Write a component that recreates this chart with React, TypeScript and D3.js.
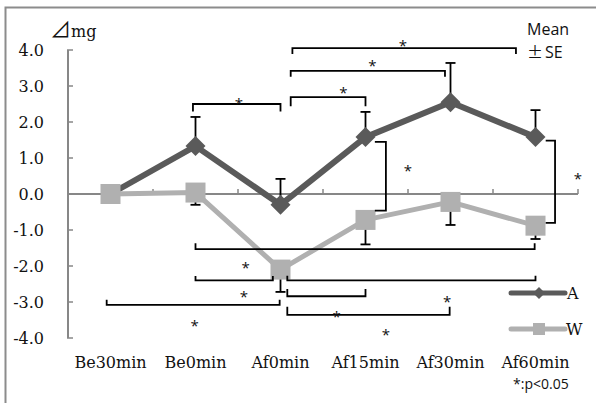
import * as d3 from "d3"

const categories = ["Be30min", "Be0min", "Af0min", "Af15min", "Af30min", "Af60min"]
const seriesA = [0.0, 1.33, -0.3, 1.58, 2.55, 1.58]
const seriesASE = [0, 0.81, 0.72, 0.7, 1.09, 0.75]
const seriesW = [0.0, 0.04, -2.1, -0.72, -0.22, -0.88]
const seriesWSE = [0, 0.34, 0.62, 0.68, 0.64, 0.37]
const yTicks = [4, 3, 2, 1, 0, -1, -2, -3, -4]

// significance brackets, x in category index units, y in mg
const hBrackets = [
  { x1: 0.97, x2: 2.0, y: 2.5, yEnd: 2.29 },
  { x1: 2.12, x2: 3.0, y: 2.69, yEnd: 2.44 },
  { x1: 2.12, x2: 3.935, y: 3.42, yEnd: 3.26 },
  { x1: 2.14, x2: 4.77, y: 4.05, yEnd: 3.89 },
  { x1: 1.0, x2: 4.99, y: -1.53, yEnd: -1.37 },
  { x1: 1.0, x2: 1.91, y: -2.4, yEnd: -2.28 },
  { x1: -0.045, x2: 1.99, y: -3.08, yEnd: -2.94 },
  { x1: 2.08, x2: 5.0, y: -2.4, yEnd: -2.27 },
  { x1: 2.08, x2: 3.0, y: -2.84, yEnd: -2.64 },
  { x1: 2.08, x2: 3.99, y: -3.36, yEnd: -3.13 },
]
const vBrackets = [
  { x: 3.24, xStub: 3.11, y1: 1.45, y2: -0.46 },
  { x: 5.23, xStub: 5.12, y1: 1.48, y2: -0.8 },
]
const stars = [
  { x: 1.51, y: 2.58 },
  { x: 2.74, y: 2.89 },
  { x: 3.08, y: 3.64 },
  { x: 3.44, y: 4.19 },
  { x: 3.5, y: 0.72 },
  { x: 5.5, y: 0.5 },
  { x: 1.59, y: -1.97 },
  { x: 1.57, y: -2.78 },
  { x: 0.99, y: -3.59 },
  { x: 2.66, y: -3.33 },
  { x: 3.96, y: -2.92 },
  { x: 3.24, y: -3.83 },
]

const colorA = "#5a5a5a"
const colorW = "#b0b0b0"
const axisColor = "#878787"
const serif = "DejaVu Serif"
const sans = "Open Sans"
const cjk = "Noto Sans CJK JP"

const fmt = (t: number) => d3.format(".1f")(t).replace("−", "-")

export default function App() {
  const width = 596
  const height = 403
  const plot = { left: 68, right: 578, top: 50, bottom: 338 }

  const x = d3.scaleLinear().domain([-0.5, 5.5]).range([plot.left, plot.right])
  const y = d3.scaleLinear().domain([-4, 4]).range([plot.bottom, plot.top])

  const line = d3
    .line<number>()
    .x((_, i) => x(i))
    .y((d) => y(d))

  const bounds = d3.range(0, categories.length + 1).map((i) => i - 0.5)

  const diamond = (cx: number, cy: number, r: number) =>
    `M${cx},${cy - r}L${cx + r},${cy}L${cx},${cy + r}L${cx - r},${cy}Z`

  return (
    <div style={{ position: "absolute", left: 0, top: 0 }}>
      <svg width={width} height={height} style={{ display: "block", background: "#fff" }}>
        <path d={`M5.5,${height}V7.5H${width}`} fill="none" stroke="#8c8c8c" strokeWidth={2} />

        {/* y axis */}
        <line x1={plot.left} x2={plot.left} y1={y(4)} y2={y(-4)} stroke={axisColor} strokeWidth={2} />
        {yTicks.map((t) => (
          <g key={t}>
            <line x1={plot.left - 1} x2={plot.left + 5} y1={y(t)} y2={y(t)} stroke={axisColor} strokeWidth={1.5} />
            <text x={44} y={y(t) + 6} textAnchor="end" fontFamily={serif} fontSize={16} fill="#111">
              {fmt(t)}
            </text>
          </g>
        ))}

        {/* x axis */}
        <line x1={plot.left} x2={plot.right} y1={y(0)} y2={y(0)} stroke={axisColor} strokeWidth={2} />
        {bounds.slice(1).map((b) => (
          <line key={b} x1={x(b)} x2={x(b)} y1={y(0)} y2={y(0) - 5} stroke={axisColor} strokeWidth={1.5} />
        ))}
        {categories.map((c, i) => (
          <text key={c} x={x(i)} y={368} textAnchor="middle" fontFamily={serif} fontSize={16} fill="#111">
            {c}
          </text>
        ))}

        <text x={50} y={37} fontFamily={serif} fontSize={16} fill="#111">
          <tspan fontFamily={cjk} fontSize={21}>⊿</tspan>mg
        </text>
        <text x={527} y={35} fontFamily={sans} fontSize={16} fill="#111">
          Mean
        </text>
        <text x={527} y={58} fontFamily={sans} fontSize={16} fill="#111">
          <tspan fontFamily={cjk}>±</tspan>
          <tspan dx={2}>SE</tspan>
        </text>
        <text x={513} y={389} fontFamily={sans} fontSize={14} fill="#111">
          *:p&lt;0.05
        </text>

        {/* error bars */}
        {seriesA.map((v, i) =>
          seriesASE[i] > 0 ? (
            <g key={`ea${i}`} stroke="#000" strokeWidth={1.8}>
              <line x1={x(i)} x2={x(i)} y1={y(v)} y2={y(v + seriesASE[i])} />
              <line x1={x(i) - 5} x2={x(i) + 5} y1={y(v + seriesASE[i])} y2={y(v + seriesASE[i])} />
            </g>
          ) : null
        )}
        {seriesW.map((v, i) =>
          seriesWSE[i] > 0 ? (
            <g key={`ew${i}`} stroke="#000" strokeWidth={1.8}>
              <line x1={x(i)} x2={x(i)} y1={y(v)} y2={y(v - seriesWSE[i])} />
              <line x1={x(i) - 5} x2={x(i) + 5} y1={y(v - seriesWSE[i])} y2={y(v - seriesWSE[i])} />
            </g>
          ) : null
        )}

        {/* series A */}
        <path d={line(seriesA) ?? ""} fill="none" stroke={colorA} strokeWidth={6} strokeLinejoin="round" />
        {seriesA.map((v, i) => (
          <path key={`ma${i}`} d={diamond(x(i), y(v), 10)} fill={colorA} />
        ))}

        {/* series W */}
        <path d={line(seriesW) ?? ""} fill="none" stroke={colorW} strokeWidth={5} strokeLinejoin="round" />
        {seriesW.map((v, i) => (
          <rect key={`mw${i}`} x={x(i) - 10} y={y(v) - 10} width={20} height={20} fill={colorW} />
        ))}

        {/* significance brackets */}
        {hBrackets.map((b, i) => (
          <path
            key={`hb${i}`}
            d={`M${x(b.x1)},${y(b.yEnd)}V${y(b.y)}H${x(b.x2)}V${y(b.yEnd)}`}
            fill="none"
            stroke="#000"
            strokeWidth={1.8}
          />
        ))}
        {vBrackets.map((b, i) => (
          <path
            key={`vb${i}`}
            d={`M${x(b.xStub)},${y(b.y1)}H${x(b.x)}V${y(b.y2)}H${x(b.xStub)}`}
            fill="none"
            stroke="#000"
            strokeWidth={1.8}
          />
        ))}
        {stars.map((s, i) => (
          <text key={`s${i}`} x={x(s.x)} y={y(s.y) + 8} textAnchor="middle" fontFamily={sans} fontSize={15} fill="#111">
            *
          </text>
        ))}

        {/* legend */}
        <line x1={511} x2={565} y1={293} y2={293} stroke={colorA} strokeWidth={5} strokeLinecap="round" />
        <path d={diamond(539, 293, 6)} fill={colorA} />
        <text x={567} y={299} fontFamily={serif} fontSize={16} fill="#111">
          A
        </text>
        <line x1={511} x2={565} y1={329} y2={329} stroke={colorW} strokeWidth={5} strokeLinecap="round" />
        <rect x={533} y={323} width={12} height={12} fill={colorW} />
        <text x={566} y={335} fontFamily={serif} fontSize={16} fill="#111">
          W
        </text>
      </svg>
    </div>
  )
}
